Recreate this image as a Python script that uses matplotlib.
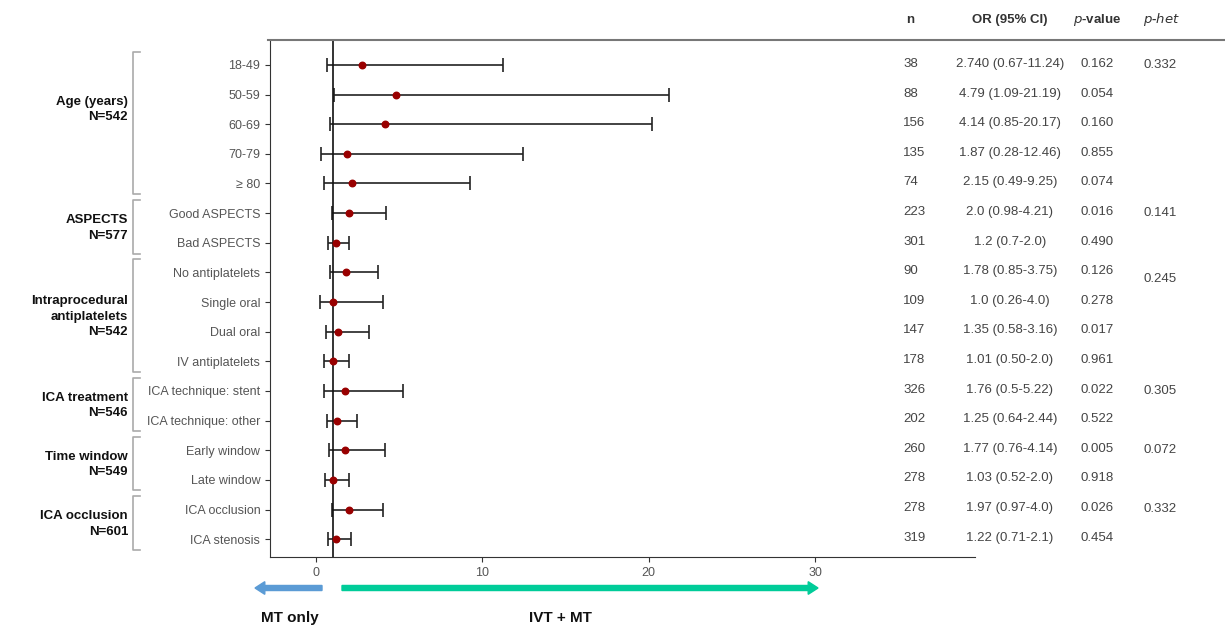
import numpy as np
import matplotlib.pyplot as plt
from matplotlib.lines import Line2D

plt.rcParams['font.family'] = ['Liberation Sans Narrow', 'Liberation Sans', 'DejaVu Sans']

subgroups = ["18-49", "50-59", "60-69", "70-79", "≥ 80", "Good ASPECTS", "Bad ASPECTS",
             "No antiplatelets", "Single oral", "Dual oral", "IV antiplatelets",
             "ICA technique: stent", "ICA technique: other", "Early window", "Late window",
             "ICA occlusion", "ICA stenosis"]
odds = [2.74, 4.79, 4.14, 1.87, 2.15, 2.0, 1.2, 1.78, 1.0, 1.35, 1.01, 1.76, 1.25, 1.77, 1.03, 1.97, 1.22]
lower = [0.67, 1.09, 0.85, 0.28, 0.49, 0.98, 0.7, 0.85, 0.26, 0.58, 0.50, 0.5, 0.64, 0.76, 0.52, 0.97, 0.71]
upper = [11.24, 21.19, 20.17, 12.46, 9.25, 4.21, 2.0, 3.75, 4.0, 3.16, 2.0, 5.22, 2.44, 4.14, 2.0, 4.0, 2.1]
n_vals = ["38", "88", "156", "135", "74", "223", "301", "90", "109", "147", "178", "326", "202", "260", "278", "278", "319"]
or_text = ["2.740 (0.67-11.24)", "4.79 (1.09-21.19)", "4.14 (0.85-20.17)", "1.87 (0.28-12.46)",
           "2.15 (0.49-9.25)", "2.0 (0.98-4.21)", "1.2 (0.7-2.0)", "1.78 (0.85-3.75)",
           "1.0 (0.26-4.0)", "1.35 (0.58-3.16)", "1.01 (0.50-2.0)", "1.76 (0.5-5.22)",
           "1.25 (0.64-2.44)", "1.77 (0.76-4.14)", "1.03 (0.52-2.0)", "1.97 (0.97-4.0)", "1.22 (0.71-2.1)"]
p_vals = ["0.162", "0.054", "0.160", "0.855", "0.074", "0.016", "0.490", "0.126", "0.278",
          "0.017", "0.961", "0.022", "0.522", "0.005", "0.918", "0.026", "0.454"]
# (group label, first row, last row, p-het)
groups = [("Age (years)\nN=542", 0, 4, "0.332"),
          ("ASPECTS\nN=577", 5, 6, "0.141"),
          ("Intraprocedural\nantiplatelets\nN=542", 7, 10, "0.245"),
          ("ICA treatment\nN=546", 11, 12, "0.305"),
          ("Time window\nN=549", 13, 14, "0.072"),
          ("ICA occlusion\nN=601", 15, 16, "0.332")]

W, H = 1225, 631
fig = plt.figure(figsize=(W / 100, H / 100), dpi=100)

def fx(px):
    return px / W

def fy(py):
    return 1 - py / H

ax = fig.add_axes([fx(270), fy(557), fx(975) - fx(270), fy(40) - fy(557)])
y = np.arange(len(subgroups))
ax.set_ylim(16.6, -0.84)
ax.set_xlim(-2.76, 39.6)
err = [np.array(odds) - np.array(lower), np.array(upper) - np.array(odds)]
ax.errorbar(odds, y, xerr=err, fmt='none', ecolor='#222222', elinewidth=1.2, capsize=5, capthick=1.2)
ax.scatter(odds, y, color='#990000', s=22, zorder=3)
ax.axvline(1, color='#111111', lw=1.2)
ax.set_yticks(y)
ax.set_yticklabels(subgroups, color='#555555', fontsize=9)
ax.set_xticks([0, 10, 20, 30])
ax.tick_params(axis='x', colors='#555555', labelsize=9)
ax.tick_params(axis='both', color='#333333')
for s in ['top', 'right']:
    ax.spines[s].set_visible(False)
for s in ['left', 'bottom']:
    ax.spines[s].set_color('#333333')

# top rule
fig.add_artist(Line2D([fx(268), fx(1225)], [fy(40), fy(40)], color='#777777', lw=1.5))

# table
hdr_y = fy(20)
fig.text(fx(910), hdr_y, "n", ha='center', va='center', fontsize=9.5, fontweight='bold', color='#333333')
fig.text(fx(1010), hdr_y, "OR (95% CI)", ha='center', va='center', fontsize=9.5, fontweight='bold', color='#333333')
fig.text(fx(1097), hdr_y, "$p$-value", ha='center', va='center', fontsize=9.5, fontweight='bold', color='#333333')
fig.text(fx(1162), hdr_y, "$p$-$het$", ha='center', va='center', fontsize=9.5, fontweight='bold', color='#333333')
row_px = [65 + 29.6 * i for i in range(len(subgroups))]
for i in range(len(subgroups)):
    yy = fy(row_px[i] - 1)
    fig.text(fx(903), yy, n_vals[i], ha='left', va='center', fontsize=9.5, color='#444444')
    fig.text(fx(1010), yy, or_text[i], ha='center', va='center', fontsize=9.5, color='#444444')
    fig.text(fx(1097), yy, p_vals[i], ha='center', va='center', fontsize=9.5, color='#444444')

# groups, brackets and p-het
for label, a, b, ph in groups:
    top = row_px[a] - 13
    bot = row_px[b] + 11
    fig.add_artist(Line2D([fx(140), fx(133), fx(133), fx(140)],
                          [fy(top), fy(top), fy(bot), fy(bot)], color='#aaaaaa', lw=1.2))
    mid = (row_px[a] + row_px[b]) / 2
    if a == 0:
        mid = (row_px[1] + row_px[2]) / 2
    fig.text(fx(128), fy(mid), label, ha='right', va='center', fontsize=9.5, fontweight='bold',
             color='#111111', linespacing=1.4)
    php = row_px[a] if a != 7 else (row_px[7] + row_px[8]) / 2 - 8
    fig.text(fx(1160), fy(php), ph, ha='center', va='center', fontsize=9.5, color='#444444')

# direction arrows
fig.add_artist(plt.matplotlib.patches.FancyArrow(
    fx(322), fy(588), fx(255) - fx(322), 0, width=0.008, head_width=0.02, head_length=0.008,
    length_includes_head=True, color='#5b9bd5', transform=fig.transFigure))
fig.add_artist(plt.matplotlib.patches.FancyArrow(
    fx(342), fy(588), fx(818) - fx(342), 0, width=0.008, head_width=0.02, head_length=0.008,
    length_includes_head=True, color='#00cc99', transform=fig.transFigure))
fig.text(fx(290), fy(618), "MT only", ha='center', va='center', fontsize=11, fontweight='bold', color='#111111')
fig.text(fx(560), fy(618), "IVT + MT", ha='center', va='center', fontsize=11, fontweight='bold', color='#111111')

fig.savefig('out.png', dpi=100)
